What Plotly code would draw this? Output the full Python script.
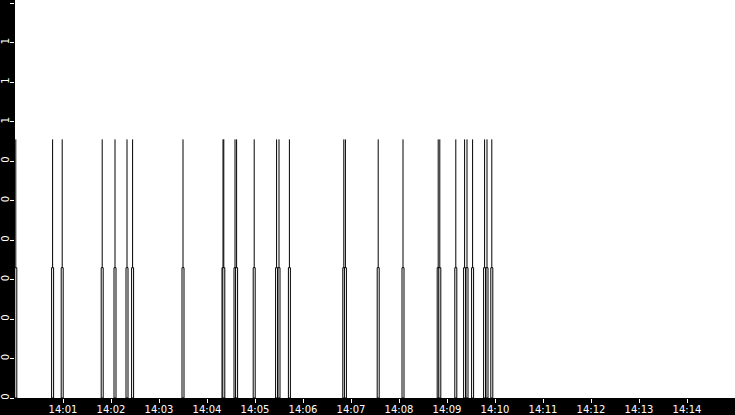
import plotly.graph_objects as go

day = '2024-01-01 '
event_times = ['14:00:01', '14:00:47', '14:00:59', '14:01:49', '14:02:05', '14:02:20', '14:02:27',
               '14:03:30', '14:04:20', '14:04:21', '14:04:35', '14:04:37', '14:04:59', '14:05:27',
               '14:05:30', '14:05:43', '14:06:51', '14:06:53', '14:07:34', '14:08:05', '14:08:49',
               '14:08:51', '14:09:11', '14:09:22', '14:09:25', '14:09:32', '14:09:47', '14:09:50',
               '14:09:56']
# two levels per event: the short box and the taller spike
low_vals = [0.33, 0.33, 0.33, 0.33, 0.33, 0.33, 0.33, 0.33, 0.33, 0.33, 0.33, 0.33, 0.33, 0.33, 0.33,
            0.33, 0.33, 0.33, 0.33, 0.33, 0.33, 0.33, 0.33, 0.33, 0.33, 0.33, 0.33, 0.33, 0.33]
high_vals = [0.655, 0.655, 0.655, 0.655, 0.655, 0.655, 0.655, 0.655, 0.655, 0.655, 0.655, 0.655, 0.655,
             0.655, 0.655, 0.655, 0.655, 0.655, 0.655, 0.655, 0.655, 0.655, 0.655, 0.655, 0.655, 0.655,
             0.655, 0.655, 0.655]
x_ticks = ['14:01', '14:02', '14:03', '14:04', '14:05', '14:06', '14:07', '14:08', '14:09', '14:10',
           '14:11', '14:12', '14:13', '14:14']
y_ticks = [0, 0.1, 0.2, 0.3, 0.4, 0.5, 0.6, 0.7, 0.8, 0.9, 1.0]
y_labels = ['0', '0', '0', '0', '0', '0', '0', '1', '1', '1', '1']

x = [day + t for t in event_times]

# spikes: vertical segments from the box top up to the high level
sx, sy = [], []
for t, lo, hi in zip(x, low_vals, high_vals):
    sx += [t, t, None]
    sy += [lo, hi, None]

fig = go.Figure()
fig.add_trace(go.Bar(x=x, y=low_vals, width=2500, hoverinfo='skip',
                     marker=dict(color='white', line=dict(color='black', width=1))))
fig.add_trace(go.Scatter(x=sx, y=sy, mode='lines', hoverinfo='skip',
                         line=dict(color='black', width=1)))

fig.update_layout(
    width=735, height=415,
    margin=dict(l=15, r=0, t=0, b=17, pad=0),
    paper_bgcolor='black', plot_bgcolor='white',
    showlegend=False,
    font=dict(family='DejaVu Sans', size=10, color='white'),
)
fig.update_xaxes(type='date', range=[day + '14:00:00', day + '14:15:00'],
                 tickvals=[day + t for t in x_ticks], ticktext=x_ticks,
                 showgrid=False, zeroline=False,
                 ticks='outside', ticklen=4, tickcolor='white', showline=False,
                 automargin=False, ticklabelstandoff=-2)
fig.update_yaxes(range=[0, 1.008], tickvals=y_ticks, ticktext=y_labels, tickangle=-90,
                 showgrid=False, zeroline=False, ticks='outside', ticklen=4,
                 tickcolor='white', showline=False, automargin=False, ticklabelstandoff=-3)

# page has a default body margin; drop it so the chart fills the window
fig.write_html('out.html', config={'displayModeBar': False},
               post_script="document.body.style.margin='0';")
